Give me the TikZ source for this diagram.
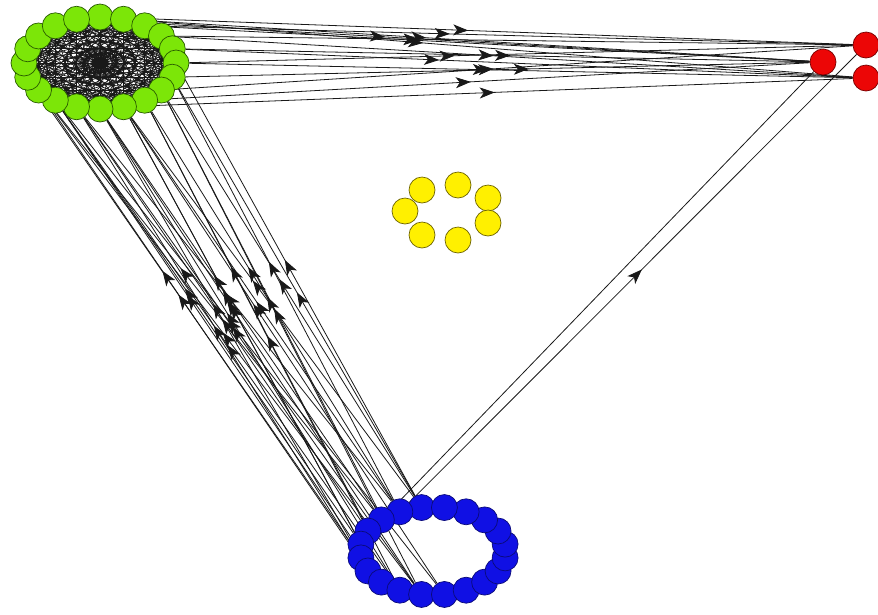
\documentclass[tikz,border=0pt]{standalone}
\usetikzlibrary{arrows.meta,decorations.markings}
\definecolor{gfill}{RGB}{124,230,8}
\definecolor{gline}{RGB}{40,90,0}
\definecolor{bfill}{RGB}{16,16,228}
\definecolor{bline}{RGB}{10,10,120}
\definecolor{rfill}{RGB}{236,6,6}
\definecolor{rline}{RGB}{120,0,0}
\definecolor{yfill}{RGB}{255,240,0}
\definecolor{yline}{RGB}{110,100,0}
\pgfdeclarelayer{background}
\pgfsetlayers{background,main}
\tikzset{
  vert/.style={circle,minimum size=26pt,inner sep=0pt,line width=0.7pt},
  gnode/.style={vert,draw=gline,fill=gfill},
  bnode/.style={vert,draw=bline,fill=bfill},
  rnode/.style={vert,draw=rline,fill=rfill},
  ynode/.style={vert,draw=yline,fill=yfill},
  edge/.style={draw=black!90,line width=0.8pt},
  midarrow/.style={postaction={decorate},decoration={markings,
    mark=at position #1 with {\arrow{Stealth[length=15pt,width=11pt,inset=4pt]}}}},
  smallarrow/.style={postaction={decorate},decoration={markings,
    mark=at position #1 with {\arrow{Stealth[length=9pt,width=7pt]}}}},
}
\begin{document}
\begin{tikzpicture}[x=1pt,y=-1pt]
\useasboundingbox (0,0) rectangle (878,614);
% green cluster
\foreach \k in {0,...,19} {
  \pgfmathsetmacro\t{90-18*\k}
  \node[gnode] (g\k) at ({100+76*cos(\t)},{63-46*sin(\t)}) {};
}
% blue cluster
\foreach \k in {0,...,19} {
  \pgfmathsetmacro\t{99+18*\k}
  \node[bnode] (b\k) at ({433+73*cos(\t)},{551-44*sin(\t)}) {};
}
% red cluster
\node[rnode] (r1) at (823,62) {};
\node[rnode] (r2) at (866,45) {};
\node[rnode] (r3) at (866,78) {};
% yellow cluster
\node[ynode] (y1) at (422,190) {};
\node[ynode] (y2) at (458,185) {};
\node[ynode] (y3) at (488,198) {};
\node[ynode] (y4) at (405,211) {};
\node[ynode] (y5) at (488,223) {};
\node[ynode] (y6) at (422,235) {};
\node[ynode] (y7) at (458,240) {};
\begin{pgfonlayer}{background}
% green internal edges
\foreach \i in {0,...,19} {
  \foreach \k/\p in {2/0.5,3/0.45,4/0.55,5/0.5,6/0.4,7/0.6,8/0.5,9/0.45,10/0.5} {
    \pgfmathtruncatemacro\j{mod(\i+\k,20)}
    \draw[edge,line width=0.7pt,smallarrow=\p] (g\i) -- (g\j);
  }
}
% green -> red
\foreach \a/\b/\p in {0/r2/0.48,1/r1/0.43,1/r3/0.40,2/r2/0.42,2/r1/0.40,3/r3/0.47,
  3/r2/0.36,4/r1/0.52,5/r2/0.40,5/r3/0.45,6/r1/0.55,7/r2/0.47,8/r1/0.48,
  9/r3/0.50,19/r1/0.41,4/r3/0.38} {
  \draw[edge,midarrow=\p] (g\a) -- (\b);
}
% blue -> green
\foreach \a/\b/\p in {1/6/0.58,0/7/0.55,1/8/0.60,2/7/0.52,0/9/0.57,3/8/0.62,
  4/9/0.55,2/10/0.60,5/10/0.57,6/11/0.53,7/9/0.62,8/10/0.58,9/11/0.55,
  8/12/0.50,7/12/0.60,9/13/0.52,10/12/0.56,6/13/0.63,4/12/0.58,3/11/0.50,
  5/14/0.55,8/8/0.52,9/7/0.57,10/9/0.60,1/11/0.54,2/13/0.59,0/5/0.56,
  0/6/0.50,1/9/0.52,9/10/0.61} {
  \draw[edge,midarrow=\p] (b\a) -- (g\b);
}
% blue -> red
\draw[edge] (b2) -- (r1);
\draw[edge,midarrow=0.52] (b1) -- (r2);
\end{pgfonlayer}
\end{tikzpicture}
\end{document}
